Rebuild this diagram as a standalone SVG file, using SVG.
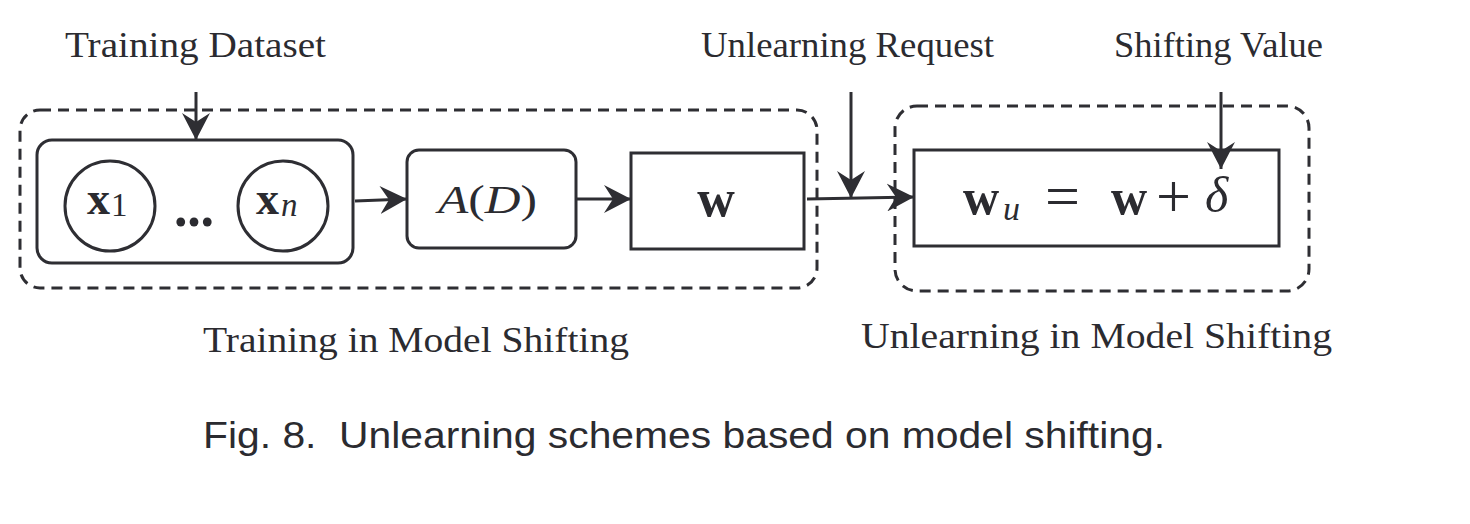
<svg xmlns="http://www.w3.org/2000/svg" width="1470" height="524" viewBox="0 0 1470 524">
<style>
.bg{fill:#ffffff}
.box{fill:none;stroke:#2e2e33;stroke-width:3}
.dash{fill:none;stroke:#2e2e33;stroke-width:3;stroke-dasharray:11 7}
.edge{fill:none;stroke:#2e2e33;stroke-width:3}
.lbl{font-family:"Liberation Serif","Times New Roman",serif;font-size:36px;fill:#2b2b30}
.m{font-family:"Liberation Serif","Times New Roman",serif;fill:#2b2b30}
.b{font-weight:bold}
.i{font-style:italic}
.cap{font-family:"Liberation Sans",Arial,sans-serif;font-size:37px;fill:#2b2b30}
</style>
<defs>
<marker id="arr" markerUnits="userSpaceOnUse" markerWidth="28" markerHeight="28" refX="27" refY="14" orient="auto" viewBox="0 0 28 28">
<path d="M0,0 L27,14 L0,28 L9,14 Z" fill="#2e2e33"/>
</marker>
</defs>
<rect class="bg" x="0" y="0" width="1470" height="524"/>

<g id="training-group">
<rect class="dash" x="20" y="110" width="797" height="178" rx="20"/>
<text class="lbl" x="203" y="352" textLength="426" lengthAdjust="spacingAndGlyphs">Training in Model Shifting</text>
</g>

<g id="unlearning-group">
<rect class="dash" x="895" y="106" width="414" height="185" rx="22"/>
<text class="lbl" x="861" y="348" textLength="471" lengthAdjust="spacingAndGlyphs">Unlearning in Model Shifting</text>
</g>

<g id="dataset">
<rect class="box" x="37" y="140" width="316" height="123" rx="15"/>
<circle class="box" cx="110" cy="206" r="45"/>
<text class="m b" x="87" y="214" font-size="46">x</text>
<text class="m" x="111" y="216" font-size="33">1</text>
<text class="m b" x="174" y="226" font-size="54" textLength="40" lengthAdjust="spacing">...</text>
<circle class="box" cx="283" cy="206" r="45"/>
<text class="m b" x="256" y="214" font-size="46">x</text>
<text class="m i" x="281" y="216" font-size="33">n</text>
</g>

<g id="algorithm">
<rect class="box" x="407" y="150" width="169" height="98" rx="12"/>
<text class="m" x="438" y="213" font-size="40" textLength="99" lengthAdjust="spacingAndGlyphs"><tspan class="i">A</tspan>(<tspan class="i">D</tspan>)</text>
</g>

<g id="model">
<rect class="box" x="631" y="153" width="173" height="96"/>
<text class="m b" x="716" y="216" font-size="52" text-anchor="middle">w</text>
</g>

<g id="unlearned-model">
<rect class="box" x="914" y="150" width="365" height="96"/>
<text class="m b" x="963" y="214" font-size="50">w</text>
<text class="m i" x="1003" y="220" font-size="34">u</text>
<text class="m" x="1045" y="217" font-size="62">=</text>
<text class="m b" x="1111" y="214" font-size="50">w</text>
<text class="m" x="1156" y="217" font-size="62">+</text>
<text class="m i" x="1205" y="212" font-size="50">δ</text>
</g>

<g id="labels">
<text class="lbl" x="65" y="57" textLength="261" lengthAdjust="spacingAndGlyphs">Training Dataset</text>
<text class="lbl" x="701" y="57" textLength="293" lengthAdjust="spacingAndGlyphs">Unlearning Request</text>
<text class="lbl" x="1114" y="57" textLength="209" lengthAdjust="spacingAndGlyphs">Shifting Value</text>
</g>

<g id="connectors">
<line class="edge" x1="196" y1="92" x2="196" y2="140" marker-end="url(#arr)"/>
<line class="edge" x1="355" y1="201" x2="407" y2="199" marker-end="url(#arr)"/>
<line class="edge" x1="576" y1="199" x2="631" y2="199" marker-end="url(#arr)"/>
<line class="edge" x1="807" y1="199" x2="914" y2="197" marker-end="url(#arr)"/>
<line class="edge" x1="851" y1="92" x2="851" y2="198" marker-end="url(#arr)"/>
<line class="edge" x1="1221" y1="92" x2="1221" y2="169" marker-end="url(#arr)"/>
</g>

<text class="cap" x="203" y="448" textLength="962" lengthAdjust="spacingAndGlyphs" xml:space="preserve">Fig. 8.  Unlearning schemes based on model shifting.</text>
</svg>
